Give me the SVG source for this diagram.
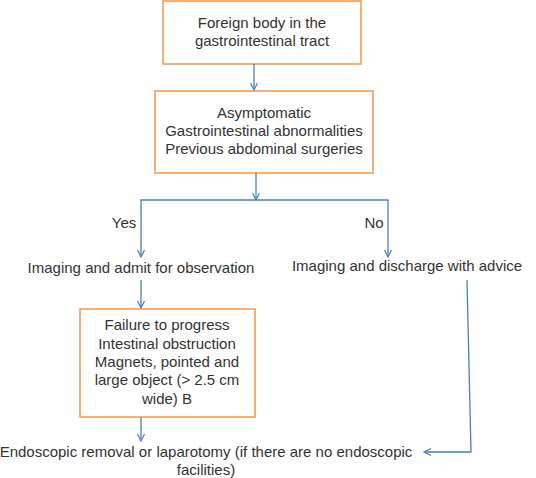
<svg xmlns="http://www.w3.org/2000/svg" width="536" height="478" viewBox="0 0 536 478">
<defs>
<marker id="arr" markerWidth="10" markerHeight="10" refX="8" refY="5" orient="auto" markerUnits="userSpaceOnUse">
<path d="M1,1.5 L8,5 L1,8.5" fill="none" stroke="#4a7ec4" stroke-width="1.2"/>
</marker>
</defs>
<style>
.box{fill:#fff;stroke:#f79b55;stroke-width:1.6}
.t{font-family:"Liberation Sans",Arial,sans-serif;font-size:15px;fill:#333;text-anchor:middle}
.c{fill:none;stroke:#4a7ec4;stroke-width:1.3}
</style>
<rect width="536" height="478" fill="#fff"/>
<g id="n1">
<rect class="box" x="163" y="1" width="198" height="63"/>
<text class="t" x="262" y="28">Foreign body in the</text>
<text class="t" x="262" y="46">gastrointestinal tract</text>
</g>
<g id="n2">
<rect class="box" x="155" y="91" width="218" height="82"/>
<text class="t" x="264" y="118">Asymptomatic</text>
<text class="t" x="264" y="136">Gastrointestinal abnormalities</text>
<text class="t" x="264" y="154">Previous abdominal surgeries</text>
</g>
<g id="labels">
<text class="t" x="124" y="228">Yes</text>
<text class="t" x="374" y="228">No</text>
</g>
<g id="n3">
<text class="t" x="141" y="273">Imaging and admit for observation</text>
</g>
<g id="n4">
<text class="t" x="407" y="271">Imaging and discharge with advice</text>
</g>
<g id="n5">
<rect class="box" x="80" y="309" width="175" height="108"/>
<text class="t" x="167" y="330">Failure to progress</text>
<text class="t" x="167" y="349">Intestinal obstruction</text>
<text class="t" x="167" y="367">Magnets, pointed and</text>
<text class="t" x="167" y="385">large object (&gt; 2.5 cm</text>
<text class="t" x="167" y="404">wide) B</text>
</g>
<g id="n6">
<text class="t" x="206" y="457">Endoscopic removal or laparotomy (if there are no endoscopic</text>
<text class="t" x="206" y="475">facilities)</text>
</g>
<g id="connectors">
<line class="c" x1="254" y1="64" x2="254" y2="90" marker-end="url(#arr)"/>
<line class="c" x1="256" y1="173" x2="256" y2="200" marker-end="url(#arr)"/>
<polyline class="c" points="256,200 141,200 141,257" marker-end="url(#arr)"/>
<polyline class="c" points="256,200 388,200 388,257" marker-end="url(#arr)"/>
<line class="c" x1="141" y1="280" x2="141" y2="308" marker-end="url(#arr)"/>
<line class="c" x1="141" y1="417" x2="141" y2="441" marker-end="url(#arr)"/>
<polyline class="c" points="467,280 471,452 424,452" marker-end="url(#arr)"/>
</g>
</svg>
